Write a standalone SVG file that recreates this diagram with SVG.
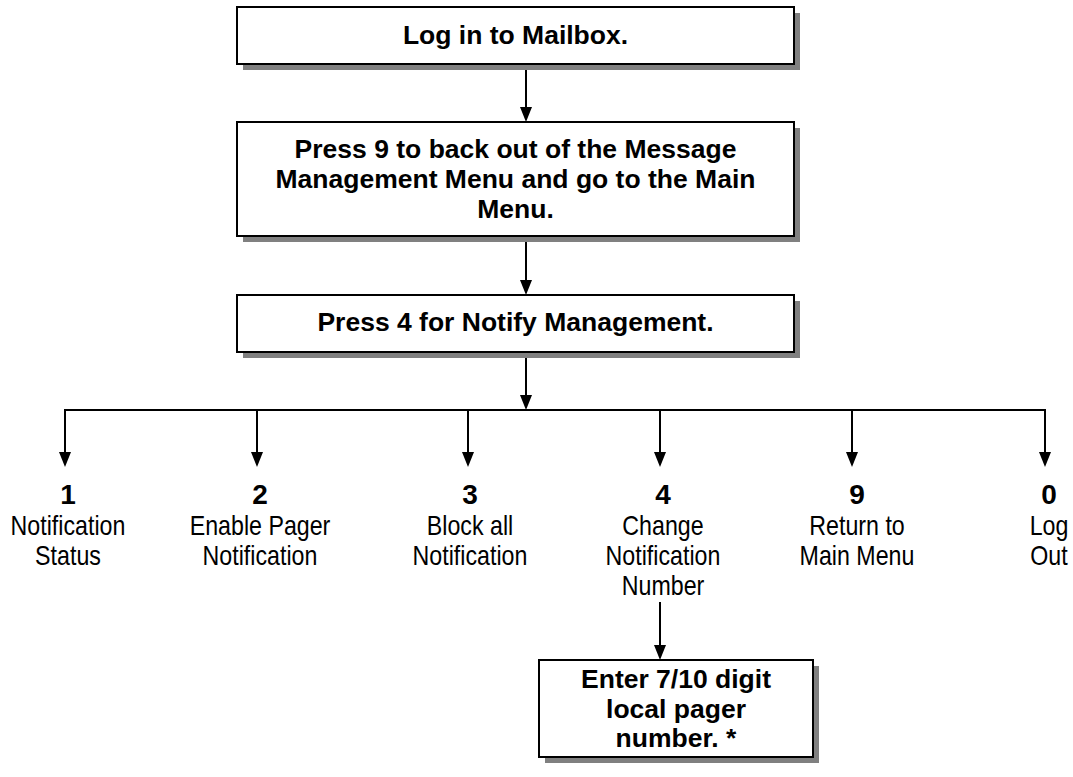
<svg xmlns="http://www.w3.org/2000/svg" width="1073" height="777" viewBox="0 0 1073 777">
<style>
.box{fill:#fff;stroke:#000;stroke-width:2}
.sh{fill:#808080}
.bt{font-family:"Liberation Sans",Arial,sans-serif;font-weight:bold;font-size:26.5px;fill:#000;text-anchor:middle}
.num{font-family:"Liberation Sans",Arial,sans-serif;font-weight:bold;font-size:28px;fill:#000;text-anchor:middle}
.lb{font-family:"Liberation Sans",Arial,sans-serif;font-size:27px;fill:#000;text-anchor:middle}
.cn{stroke:#000;stroke-width:2;fill:none}
</style>
<defs>
<marker id="ah" viewBox="0 0 15 12" refX="12" refY="6" markerWidth="15" markerHeight="12" orient="auto" markerUnits="userSpaceOnUse">
<path d="M0,0 L15,6 L0,12 z" fill="#000"/>
</marker>
</defs>
<g id="connectors">
<line class="cn" x1="526" y1="64" x2="526" y2="119" marker-end="url(#ah)"/>
<line class="cn" x1="526" y1="236" x2="526" y2="292" marker-end="url(#ah)"/>
<line class="cn" x1="526" y1="352" x2="526" y2="407" marker-end="url(#ah)"/>
<line class="cn" x1="64" y1="410" x2="1046" y2="410"/>
<line class="cn" x1="65" y1="410" x2="65" y2="464" marker-end="url(#ah)"/>
<line class="cn" x1="257" y1="410" x2="257" y2="464" marker-end="url(#ah)"/>
<line class="cn" x1="468" y1="410" x2="468" y2="464" marker-end="url(#ah)"/>
<line class="cn" x1="660" y1="410" x2="660" y2="464" marker-end="url(#ah)"/>
<line class="cn" x1="852" y1="410" x2="852" y2="464" marker-end="url(#ah)"/>
<line class="cn" x1="1045" y1="410" x2="1045" y2="464" marker-end="url(#ah)"/>
<line class="cn" x1="660" y1="602" x2="660" y2="657" marker-end="url(#ah)"/>
</g>
<g id="n1">
<rect class="sh" x="243" y="13" width="557" height="57"/>
<rect class="box" x="237" y="7" width="557" height="57"/>
<text class="bt" x="515.5" y="44">Log in to Mailbox.</text>
</g>
<g id="n2">
<rect class="sh" x="243" y="128" width="557" height="114"/>
<rect class="box" x="237" y="122" width="557" height="114"/>
<text class="bt" x="515.5" y="158">Press 9 to back out of the Message</text>
<text class="bt" x="515.5" y="188">Management Menu and go to the Main</text>
<text class="bt" x="515.5" y="218">Menu.</text>
</g>
<g id="n3">
<rect class="sh" x="243" y="301" width="557" height="57"/>
<rect class="box" x="237" y="295" width="557" height="57"/>
<text class="bt" x="515.5" y="331">Press 4 for Notify Management.</text>
</g>
<g id="o1">
<text class="num" x="68" y="504">1</text>
<text class="lb" transform="translate(68,535) scale(0.86,1)">Notification</text>
<text class="lb" transform="translate(68,565) scale(0.86,1)">Status</text>
</g>
<g id="o2">
<text class="num" x="260" y="504">2</text>
<text class="lb" transform="translate(260,535) scale(0.86,1)">Enable Pager</text>
<text class="lb" transform="translate(260,565) scale(0.86,1)">Notification</text>
</g>
<g id="o3">
<text class="num" x="470" y="504">3</text>
<text class="lb" transform="translate(470,535) scale(0.86,1)">Block all</text>
<text class="lb" transform="translate(470,565) scale(0.86,1)">Notification</text>
</g>
<g id="o4">
<text class="num" x="663" y="504">4</text>
<text class="lb" transform="translate(663,535) scale(0.86,1)">Change</text>
<text class="lb" transform="translate(663,565) scale(0.86,1)">Notification</text>
<text class="lb" transform="translate(663,595) scale(0.86,1)">Number</text>
</g>
<g id="o9">
<text class="num" x="857" y="504">9</text>
<text class="lb" transform="translate(857,535) scale(0.86,1)">Return to</text>
<text class="lb" transform="translate(857,565) scale(0.86,1)">Main Menu</text>
</g>
<g id="o0">
<text class="num" x="1049" y="504">0</text>
<text class="lb" transform="translate(1049,535) scale(0.86,1)">Log</text>
<text class="lb" transform="translate(1049,565) scale(0.86,1)">Out</text>
</g>
<g id="n4">
<rect class="sh" x="545" y="666" width="274" height="97"/>
<rect class="box" x="539" y="660" width="274" height="97"/>
<text class="bt" x="676" y="688">Enter 7/10 digit</text>
<text class="bt" x="676" y="718">local pager</text>
<text class="bt" x="676" y="747">number. *</text>
</g>
</svg>
